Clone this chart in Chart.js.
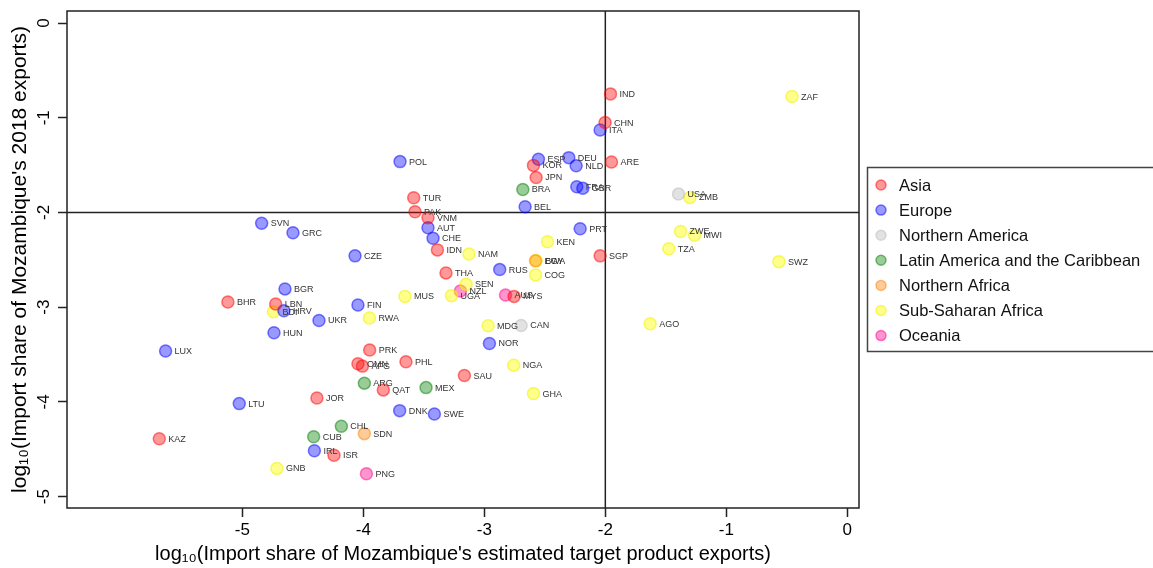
<!DOCTYPE html>
<html>
<head>
<meta charset="utf-8">
<script src="https://cdn.jsdelivr.net/npm/chart.js@4"></script>
<style>
  body { margin: 0; background: #fff; }
  #wrap { position: relative; width: 1153px; height: 568px; }
</style>
</head>
<body>
<div id="wrap"><canvas id="chart"></canvas></div>
<script>
// axis ticks
var xTicks = [-5, -4, -3, -2, -1, 0];
var yTicks = [0, -1, -2, -3, -4, -5];

var regionNames = ["Asia", "Europe", "Northern America", "Latin America and the Caribbean", "Northern Africa", "Sub-Saharan Africa", "Oceania"];

// values
var asiaCodes = ["IND", "CHN", "ARE", "KOR", "JPN", "TUR", "PAK", "VNM", "IDN", "SGP", "THA", "MYS", "BHR", "LBN", "PRK", "PHL", "OMN", "AFG", "QAT", "SAU", "JOR", "KAZ", "ISR"];
var asiaX = [-1.957, -2.002, -1.949, -2.594, -2.572, -3.584, -3.573, -3.466, -3.388, -2.043, -3.317, -2.754, -5.120, -4.725, -3.948, -3.648, -4.045, -4.008, -3.835, -3.165, -4.384, -5.687, -4.243];
var asiaY = [-0.748, -1.051, -1.468, -1.503, -1.630, -1.844, -1.993, -2.056, -2.395, -2.458, -2.638, -2.886, -2.945, -2.966, -3.453, -3.577, -3.598, -3.622, -3.873, -3.722, -3.958, -4.388, -4.564];

var europeCodes = ["ITA", "ESP", "DEU", "NLD", "POL", "FRA", "GBR", "BEL", "SVN", "AUT", "PRT", "GRC", "CHE", "CZE", "RUS", "BGR", "FIN", "HRV", "UKR", "HUN", "NOR", "LUX", "LTU", "DNK", "SWE", "IRL"];
var europeX = [-2.043, -2.553, -2.302, -2.241, -3.697, -2.236, -2.186, -2.663, -4.841, -3.466, -2.208, -4.582, -3.424, -4.069, -2.873, -4.648, -4.045, -4.657, -4.367, -4.739, -2.958, -5.635, -5.026, -3.700, -3.413, -4.405];
var europeY = [-1.129, -1.439, -1.421, -1.506, -1.463, -1.728, -1.743, -1.940, -2.113, -2.162, -2.172, -2.215, -2.272, -2.458, -2.603, -2.807, -2.977, -3.037, -3.140, -3.270, -3.383, -3.463, -4.018, -4.092, -4.127, -4.515];

var namCodes = ["USA", "CAN"];
var namX = [-1.395, -2.696];
var namY = [-1.806, -3.193];

var latamCodes = ["BRA", "ARG", "MEX", "CHL", "CUB"];
var latamX = [-2.682, -3.992, -3.482, -4.182, -4.411];
var latamY = [-1.757, -3.802, -3.849, -4.257, -4.367];

var nafCodes = ["EGY", "SDN"];
var nafX = [-2.577, -3.992];
var nafY = [-2.511, -4.335];

var ssaCodes = ["ZAF", "ZMB", "ZWE", "MWI", "KEN", "TZA", "NAM", "BWA", "SWZ", "COG", "SEN", "UGA", "MUS", "BDI", "RWA", "AGO", "MDG", "NGA", "GHA", "GNB"];
var ssaX = [-0.457, -1.301, -1.378, -1.262, -2.478, -1.475, -3.127, -2.572, -0.565, -2.577, -3.151, -3.272, -3.656, -4.744, -3.950, -1.629, -2.969, -2.757, -2.594, -4.715];
var ssaY = [-0.776, -1.841, -2.201, -2.240, -2.310, -2.384, -2.439, -2.508, -2.519, -2.659, -2.759, -2.878, -2.886, -3.048, -3.114, -3.175, -3.196, -3.612, -3.912, -4.702];

var oceCodes = ["NZL", "AUS", "PNG"];
var oceX = [-3.198, -2.825, -3.975];
var oceY = [-2.829, -2.871, -4.759];

var fills = ["rgba(255,0,0,0.4)", "rgba(0,0,255,0.4)", "rgba(190,190,190,0.45)", "rgba(0,128,0,0.4)", "rgba(255,127,0,0.4)", "rgba(255,255,0,0.45)", "rgba(255,20,147,0.45)"];
var strokes = ["rgba(255,0,0,0.5)", "rgba(0,0,255,0.5)", "rgba(190,190,190,0.55)", "rgba(0,128,0,0.5)", "rgba(255,127,0,0.5)", "rgba(240,240,0,0.55)", "rgba(255,20,147,0.55)"];

var groups = [
  [asiaCodes, asiaX, asiaY],
  [europeCodes, europeX, europeY],
  [namCodes, namX, namY],
  [latamCodes, latamX, latamY],
  [nafCodes, nafX, nafY],
  [ssaCodes, ssaX, ssaY],
  [oceCodes, oceX, oceY]
];

var datasets = groups.map((g, i) => {
  var pts = [];
  for (var j = 0; j < g[0].length; j++) {
    pts.push({x: g[1][j], y: g[2][j], code: g[0][j]});
  }
  return {
    label: regionNames[i],
    data: pts,
    backgroundColor: fills[i],
    borderColor: strokes[i],
    borderWidth: 1.5,
    pointRadius: 6,
    pointHoverRadius: 6
  };
});

var fontFam = "'Liberation Sans', Arial, sans-serif";

var decor = {
  id: "decor",
  beforeDatasetsDraw(chart) {
    var ctx = chart.ctx, a = chart.chartArea;
    var xs = chart.scales.x, ys = chart.scales.y;
    ctx.save();
    ctx.strokeStyle = "#222";
    ctx.lineWidth = 1.5;
    ctx.strokeRect(a.left, a.top, a.right - a.left, a.bottom - a.top);
    var vx = xs.getPixelForValue(-2), hy = ys.getPixelForValue(-2);
    ctx.beginPath();
    ctx.moveTo(vx, a.top); ctx.lineTo(vx, a.bottom);
    ctx.moveTo(a.left, hy); ctx.lineTo(a.right, hy);
    ctx.stroke();
    // rotated y tick labels
    ctx.fillStyle = "#000";
    ctx.font = "17px " + fontFam;
    ctx.textAlign = "center";
    ctx.textBaseline = "middle";
    yTicks.forEach(v => {
      var py = ys.getPixelForValue(v);
      ctx.save();
      ctx.translate(44, py);
      ctx.rotate(-Math.PI / 2);
      ctx.fillText(String(v), 0, 0);
      ctx.restore();
    });
    ctx.restore();
  },
  afterDatasetsDraw(chart) {
    var ctx = chart.ctx;
    ctx.save();
    ctx.font = "9px " + fontFam;
    ctx.fillStyle = "#333";
    ctx.textAlign = "left";
    ctx.textBaseline = "middle";
    chart.data.datasets.forEach((ds, i) => {
      var meta = chart.getDatasetMeta(i);
      meta.data.forEach((el, j) => {
        ctx.fillText(ds.data[j].code, el.x + 9, el.y + 0.5);
      });
    });
    // legend box
    ctx.strokeStyle = "#444";
    ctx.lineWidth = 1.5;
    ctx.strokeRect(867.5, 167.5, 300, 184);
    ctx.font = "16.5px " + fontFam;
    chart.data.datasets.forEach((ds, i) => {
      var ly = 185 + i * 25.1;
      ctx.beginPath();
      ctx.arc(881, ly, 5, 0, Math.PI * 2);
      ctx.fillStyle = ds.backgroundColor;
      ctx.fill();
      ctx.strokeStyle = ds.borderColor;
      ctx.lineWidth = 1.5;
      ctx.stroke();
      ctx.fillStyle = "#111";
      ctx.fillText(ds.label, 899, ly + 1);
    });
    ctx.restore();
  }
};

new Chart(document.getElementById("chart"), {
  type: "scatter",
  data: {datasets: datasets},
  options: {
    responsive: true,
    maintainAspectRatio: false,
    animation: false,
    layout: {padding: {top: 11, right: 294, left: 0, bottom: 0}},
    plugins: {legend: {display: false}, tooltip: {enabled: false}},
    scales: {
      x: {
        type: "linear",
        min: -6.45,
        max: 0.097,
        afterBuildTicks: (s) => { s.ticks = xTicks.map(v => ({value: v})); },
        afterFit: (s) => { s.height = 60; },
        border: {display: false},
        grid: {drawOnChartArea: false, drawTicks: true, tickLength: 9, tickColor: "#222", tickWidth: 1.5},
        ticks: {color: "#000", font: {size: 17, family: fontFam}, padding: 3, maxRotation: 0},
        title: {display: true, text: "log\u2081\u2080(Import share of Mozambique's estimated target product exports)", color: "#000", font: {size: 20, family: fontFam}, padding: {top: 0, bottom: 2}}
      },
      y: {
        type: "linear",
        min: -5.12,
        max: 0.127,
        afterBuildTicks: (s) => { s.ticks = yTicks.map(v => ({value: v})); },
        afterFit: (s) => { s.width = 67; },
        border: {display: false},
        grid: {drawOnChartArea: false, drawTicks: true, tickLength: 9, tickColor: "#222", tickWidth: 1.5},
        ticks: {display: false},
        title: {display: true, text: "log\u2081\u2080(Import share of Mozambique's 2018 exports)", color: "#000", font: {size: 21, family: fontFam}, padding: {top: 8, bottom: 0}}
      }
    }
  },
  plugins: [decor]
});
</script>
</body>
</html>
